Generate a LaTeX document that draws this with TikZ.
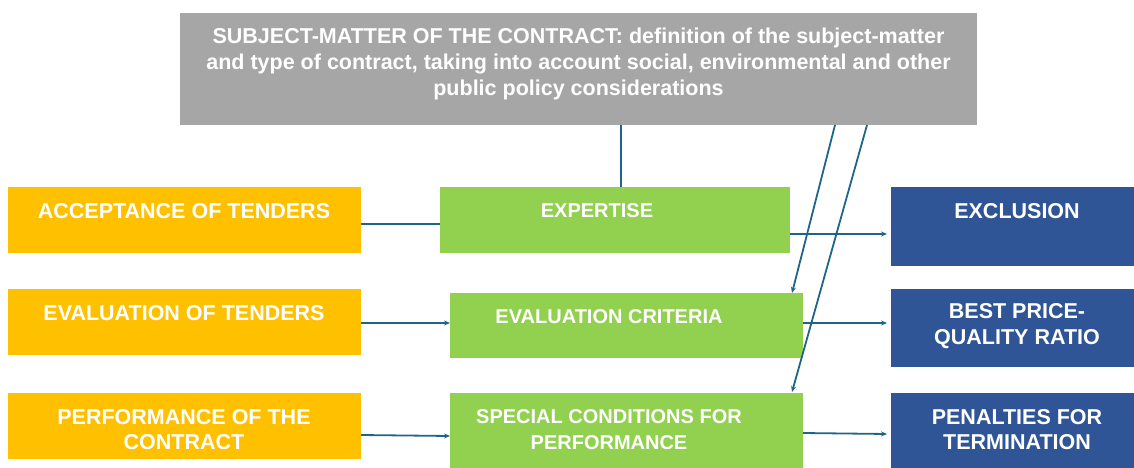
\documentclass[tikz,border=0pt]{standalone}
\usepackage{fontspec}
\setmainfont{Liberation Sans}
\usetikzlibrary{arrows.meta}
\definecolor{grayb}{HTML}{A6A6A6}
\definecolor{yel}{HTML}{FFC000}
\definecolor{grn}{HTML}{92D050}
\definecolor{blu}{HTML}{2F5597}
\definecolor{lin}{HTML}{1F6587}
\begin{document}
\begin{tikzpicture}[x=1pt,y=-1pt,
  box/.style={anchor=north west,inner sep=0pt,outer sep=0pt},
  ybox/.style={box,fill=yel},
  gbox/.style={box,fill=grn},
  bbox/.style={box,fill=blu},
  txt/.style={text=white,font=\bfseries\fontsize{21.5}{25.5}\selectfont,align=center,inner sep=0pt},
  gntxt/.style={text=white,font=\bfseries\fontsize{20}{25.5}\selectfont,align=center,inner sep=0pt},
  gtxt/.style={text=white,font=\bfseries\fontsize{21.5}{26}\selectfont,align=center,inner sep=0pt},
  conn/.style={draw=lin,line width=1.8pt},
  arr/.style={conn,-{Stealth[length=6pt,width=5pt]}}]
\useasboundingbox (0,0) rectangle (1134,468);
% top
\node[box,fill=grayb,minimum width=797pt,minimum height=112pt] (top) at (180,13) {};
\node[gtxt] (toptxt) at (578.5,64) {SUBJECT-MATTER OF THE CONTRACT: definition of the subject-matter\\and type of contract, taking into account social, environmental and other\\public policy considerations};
% yellow
\node[ybox,minimum width=353pt,minimum height=66pt] (acc) at (8,187) {};
\node[ybox,minimum width=353pt,minimum height=66pt] (eva) at (8,289) {};
\node[ybox,minimum width=353pt,minimum height=66pt] (per) at (8,393) {};
\node[txt] at (184,211) {ACCEPTANCE OF TENDERS};
\node[txt] at (184,313) {EVALUATION OF TENDERS};
\node[txt] at (184,429.5) {PERFORMANCE OF THE\\CONTRACT};
% green
\node[gbox,minimum width=350pt,minimum height=66pt] (exp) at (440,187) {};
\node[gbox,minimum width=353pt,minimum height=65pt] (crit) at (450,293) {};
\node[gbox,minimum width=353pt,minimum height=75pt] (spec) at (450,393) {};
\node[gntxt] at (597,211) {EXPERTISE};
\node[gntxt] at (609,317) {EVALUATION CRITERIA};
\node[gntxt] at (609,429.5) {SPECIAL CONDITIONS FOR\\PERFORMANCE};
% blue
\node[bbox,minimum width=243pt,minimum height=79pt] (excl) at (891,187) {};
\node[bbox,minimum width=243pt,minimum height=78pt] (best) at (891,289) {};
\node[bbox,minimum width=243pt,minimum height=75pt] (pen) at (891,393) {};
\node[txt] at (1017,211) {EXCLUSION};
\node[txt] at (1017,326) {BEST PRICE-\\QUALITY RATIO};
\node[txt] at (1017,429.5) {PENALTIES FOR\\TERMINATION};
% connectors
\coordinate (t1) at (621,125);
\coordinate (t2) at (835,125);
\coordinate (t3) at (867,125);
\draw[conn] (t1) -- (t1 |- exp.north);
\draw[conn] (acc.east |- 0,224) -- (exp.west |- 0,224);
\draw[arr] (exp.east |- 0,234) -- (887,234);
\draw[arr] (eva.east |- 0,323) -- (crit.west |- 0,323);
\draw[arr] (crit.east |- 0,323) -- (887,323);
\draw[arr] (per.east |- 0,435) -- (spec.west |- 0,436);
\draw[arr] (spec.east |- 0,433) -- (887,434);
\draw[arr] (t2) -- (792,293);
\draw[arr] (t3) -- (792,392);
\end{tikzpicture}
\end{document}
